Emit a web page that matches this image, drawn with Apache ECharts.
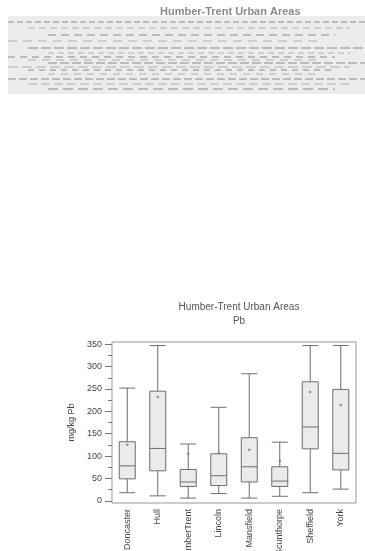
<!DOCTYPE html>
<html>
<head>
<meta charset="utf-8">
<script src="https://cdn.jsdelivr.net/npm/echarts@6/dist/echarts.min.js"></script>
<style>
  html, body { margin: 0; padding: 0; background: #fff; }
  #chart { width: 365px; height: 551px; }
</style>
</head>
<body>
<div id="chart"></div>
<script>
const areas = ['Doncaster', 'Hull', 'HumberTrent', 'Lincoln', 'Mansfield', 'Scunthorpe', 'Sheffield', 'York'];
// [whisker low, Q1, median, Q3, whisker high]
const boxes = [
  [18, 49, 78, 132, 252],
  [11, 67, 117, 245, 347],
  [6, 32, 42, 70, 127],
  [16, 34, 56, 105, 209],
  [6, 42, 76, 141, 284],
  [10, 32, 44, 76, 131],
  [18, 116, 165, 266, 347],
  [26, 69, 106, 249, 347]
];
const means = [125, 232, 105, 107, 114, 89, 243, 214];
const yTicks = [0, 50, 100, 150, 200, 250, 300, 350];
const yMinorTicks = [25, 75, 125, 175, 225, 275, 325];

const chart = echarts.init(document.getElementById('chart'));
const grey = '#6e6e6e';
const font = 'Liberation Sans';

// faint scanned heading band at the top of the page
const noiseLines = [22, 28, 35, 41, 48, 53, 57, 60, 63, 67, 70, 74, 79, 84, 89];
const headerGraphics = [
  { type: 'rect', shape: { x: 8, y: 16, width: 357, height: 78 }, style: { fill: '#ececec' } }
].concat(noiseLines.map((y, i) => ({
  type: 'line',
  shape: { x1: 8 + (i % 3) * 20, y1: y, x2: 365 - (i % 4) * 15, y2: y },
  style: { stroke: i % 2 ? '#b0b0b0' : '#8a8a8a', lineWidth: 1, lineDash: [6 + i % 5, 3 + i % 4] }
}))).concat([{
  type: 'text', left: 160, top: 6,
  style: { text: 'Humber-Trent Urban Areas', fill: '#8a8a8a', font: 'bold 11px ' + font }
}]);

const yBase = {
  type: 'value',
  min: -5, max: 355,
  axisLine: { show: false },
  splitLine: { show: false }
};

chart.setOption({
  animation: false,
  textStyle: { fontFamily: font },
  graphic: headerGraphics,
  title: {
    text: 'Humber-Trent Urban Areas',
    subtext: 'Pb',
    left: 234, textAlign: 'center', top: 297,
    itemGap: 4,
    textStyle: { fontSize: 10, fontWeight: 'normal', color: '#555' },
    subtextStyle: { fontSize: 10, color: '#555' }
  },
  grid: {
    left: 112, right: 9, top: 342, bottom: 48,
    outerBoundsMode: 'none',
    containLabel: false,
    show: true, borderColor: '#999', borderWidth: 1, backgroundColor: 'transparent'
  },
  xAxis: {
    type: 'category',
    data: areas,
    axisLine: { show: false },
    axisTick: { alignWithLabel: true, length: 4, lineStyle: { color: '#777' } },
    axisLabel: { rotate: 90, fontSize: 9, color: '#444', margin: 6 },
    splitLine: { show: false }
  },
  yAxis: [
    Object.assign({}, yBase, {
      name: 'mg/kg Pb', nameLocation: 'middle', nameGap: 31,
      nameTextStyle: { fontSize: 9, color: '#444' },
      axisTick: { show: true, length: 7, lineStyle: { color: '#777' }, customValues: yTicks },
      axisLabel: { fontSize: 9, color: '#444', margin: 10, customValues: yTicks }
    }),
    Object.assign({}, yBase, {
      position: 'left',
      axisTick: { show: true, length: 4, lineStyle: { color: '#777' }, customValues: yMinorTicks },
      axisLabel: { show: false }
    })
  ],
  series: [
    {
      type: 'boxplot',
      data: boxes,
      boxWidth: [16, 16],
      itemStyle: { color: '#ebebeb', borderColor: grey, borderWidth: 1 }
    },
    {
      type: 'scatter',
      data: means,
      symbol: 'circle', symbolSize: 2.5,
      itemStyle: { color: '#777' }
    }
  ]
});
</script>
</body>
</html>
